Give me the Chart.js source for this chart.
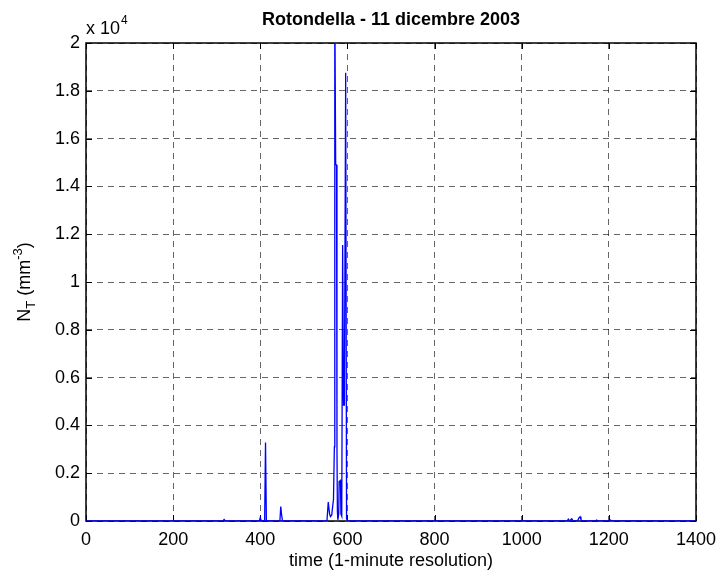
<!DOCTYPE html>
<html lang="it">
<head>
  <meta charset="UTF-8">
  <title>Rotondella - 11 dicembre 2003</title>
  <script src="https://cdn.jsdelivr.net/npm/chart.js"></script>
  <style>
    html, body { margin: 0; padding: 0; background: #fff; }
    canvas { display: block; }
  </style>
</head>
<body>
  <canvas id="ntChart" width="716" height="574"></canvas>

  <script>
    // minuti (risoluzione 1 minuto) e concentrazione N_T (mm^-3)
    const timeMin = [0, 314, 317, 320, 398, 400, 402, 410, 412, 414,
      445, 447, 449, 451, 553, 556, 559, 561, 564, 566,
      568, 570, 571, 573, 575, 576, 577, 578, 580, 581,
      584, 585, 587, 589, 591, 593, 596, 598, 600, 1104,
      1107, 1110, 1113, 1115, 1118, 1128, 1131, 1134, 1136, 1139,
      1169, 1172, 1175, 1201, 1204, 1207, 1400];
    const ntValues = [0, 0, 60, 0, 0, 150, 0, 0, 3280, 0,
      0, 600, 250, 0, 0, 790, 300, 180, 250, 600,
      900, 3100, 22000, 14900, 14900, 3000, 400, 50, 300, 1650,
      1700, 300, 200, 11550, 4850, 4850, 18750, 100, 0, 0,
      80, 0, 60, 90, 0, 0, 120, 180, 60, 0,
      0, 40, 0, 0, 40, 0, 0];

    const xTicks = [0, 200, 400, 600, 800, 1000, 1200, 1400];
    const yTicks = [0, 0.2, 0.4, 0.6, 0.8, 1, 1.2, 1.4, 1.6, 1.8, 2]; // x 10^4

    const FONT = '"Liberation Sans", Arial, sans-serif';

    // titoli, box e tacche come in MATLAB
    const matlabDecor = {
      id: 'matlabDecor',
      beforeDatasetsDraw(chart) {
        const ctx = chart.ctx;
        const a = chart.chartArea;
        const xs = chart.scales.x, ys = chart.scales.y;
        ctx.save();

        // tacche interne
        ctx.strokeStyle = '#000';
        ctx.lineWidth = 1;
        ctx.beginPath();
        xTicks.forEach(t => {
          const px = Math.round(xs.getPixelForValue(t)) + 0.5;
          ctx.moveTo(px, a.bottom); ctx.lineTo(px, a.bottom - 6);
          ctx.moveTo(px, a.top); ctx.lineTo(px, a.top + 6);
        });
        yTicks.forEach(t => {
          const py = Math.round(ys.getPixelForValue(t * 1e4)) + 0.5;
          ctx.moveTo(a.left, py); ctx.lineTo(a.left + 6, py);
          ctx.moveTo(a.right, py); ctx.lineTo(a.right - 6, py);
        });
        ctx.stroke();

        // box
        ctx.lineWidth = 1.5;
        ctx.strokeRect(a.left, a.top, a.right - a.left, a.bottom - a.top);
        ctx.restore();
      },
      afterDraw(chart) {
        const ctx = chart.ctx;
        const a = chart.chartArea;
        ctx.save();
        const cx = (a.left + a.right) / 2;
        ctx.fillStyle = '#000';
        ctx.textAlign = 'center';
        ctx.textBaseline = 'middle';

        // titolo
        ctx.font = 'bold 18px ' + FONT;
        ctx.fillText('Rotondella - 11 dicembre 2003', cx, 20);

        // etichetta asse x
        ctx.font = '18px ' + FONT;
        ctx.fillText('time (1-minute resolution)', cx, 561);

        // moltiplicatore x 10^4
        ctx.textAlign = 'left';
        ctx.textBaseline = 'alphabetic';
        ctx.font = '18px ' + FONT;
        ctx.fillText('x 10', a.left, 34);
        const w10 = ctx.measureText('x 10').width;
        ctx.font = '12px ' + FONT;
        ctx.fillText('4', a.left + w10 + 1, 24);

        // etichetta asse y: N_T (mm^-3)
        const parts = [
          { t: 'N', size: 18, dy: 0 },
          { t: 'T', size: 13, dy: 5 },
          { t: ' (mm', size: 18, dy: 0 },
          { t: '-3', size: 13, dy: -8 },
          { t: ')', size: 18, dy: 0 }
        ];
        let total = 0;
        parts.forEach(p => { ctx.font = p.size + 'px ' + FONT; p.w = ctx.measureText(p.t).width; total += p.w; });
        ctx.translate(30, (a.top + a.bottom) / 2);
        ctx.rotate(-Math.PI / 2);
        let x0 = -total / 2;
        parts.forEach(p => {
          ctx.font = p.size + 'px ' + FONT;
          ctx.fillText(p.t, x0, p.dy);
          x0 += p.w;
        });
        ctx.restore();
      }
    };

    const points = timeMin.map((t, i) => ({ x: t, y: ntValues[i] }));

    new Chart(document.getElementById('ntChart').getContext('2d'), {
      type: 'line',
      data: {
        datasets: [{
          data: points,
          borderColor: '#0000ff',
          borderWidth: 1.3,
          pointRadius: 0,
          tension: 0,
          fill: false
        }]
      },
      options: {
        responsive: false,
        animation: false,
        layout: { padding: { left: 0, right: 20, top: 43, bottom: 0 } },
        plugins: { legend: { display: false }, tooltip: { enabled: false } },
        scales: {
          x: {
            type: 'linear',
            min: 0, max: 1400,
            afterBuildTicks: s => { s.ticks = xTicks.map(v => ({ value: v })); },
            afterFit: s => { s.height = 53; s.paddingLeft = 0; s.paddingRight = 0; },
            grid: { color: 'rgba(0,0,0,0.6)', lineWidth: 1, drawTicks: false },
            border: { display: false, dash: [6, 5] },
            ticks: {
              color: '#000', padding: 8, maxRotation: 0,
              font: { family: FONT, size: 18 },
              callback: v => String(v)
            }
          },
          y: {
            type: 'linear',
            min: 0, max: 20000,
            afterBuildTicks: s => { s.ticks = yTicks.map(v => ({ value: v * 1e4 })); },
            afterFit: s => { s.width = 86; s.paddingTop = 0; s.paddingBottom = 0; },
            grid: { color: 'rgba(0,0,0,0.6)', lineWidth: 1, drawTicks: false },
            border: { display: false, dash: [6, 5] },
            ticks: {
              color: '#000', padding: 6,
              font: { family: FONT, size: 18 },
              callback: v => String(Math.round(v / 1e4 * 10) / 10)
            }
          }
        }
      },
      plugins: [matlabDecor]
    });
  </script>
</body>
</html>
